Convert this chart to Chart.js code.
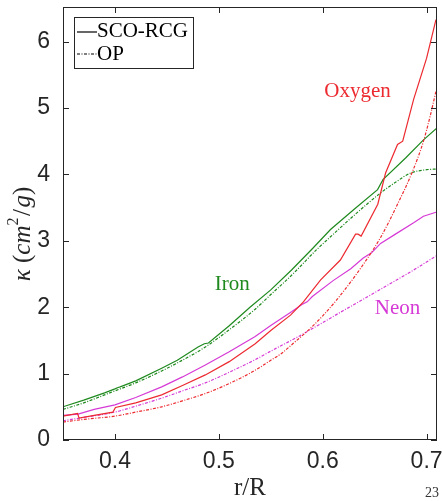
<!DOCTYPE html>
<html><head><meta charset="utf-8">
<script src="https://cdn.jsdelivr.net/npm/chart.js@4.4.0/dist/chart.umd.min.js"></script>
<style>html,body{margin:0;padding:0;background:#fff;} #wrap{width:443px;height:501px;position:relative;}</style>
</head><body><div id="wrap"><canvas id="c" width="443" height="501"></canvas></div>
<script>
// ---- data ----
const xTickValues = [0.4, 0.5, 0.6, 0.7];
const yTickValues = [0, 1, 2, 3, 4, 5, 6];

const oxygenR_SCO = [0.35,0.364,0.3655,0.38,0.398,0.4005,0.42,0.445,0.465,0.487,0.51,0.535,0.55,0.569,0.5814,0.598,0.617,0.6316,0.634,0.637,0.653,0.6605,0.672,0.677,0.6875,0.70,0.709];
const oxygenK_SCO = [0.36,0.40,0.33,0.37,0.42,0.49,0.56,0.68,0.82,0.98,1.18,1.45,1.65,1.88,2.08,2.41,2.71,3.10,3.10,3.07,3.55,4.02,4.45,4.50,5.13,5.75,6.33];
const oxygenR_OP  = [0.35,0.37,0.40,0.42,0.445,0.465,0.487,0.51,0.535,0.55,0.56,0.572,0.588,0.60,0.614,0.625,0.638,0.6557,0.672,0.6866,0.697,0.703,0.709];
const oxygenK_OP  = [0.27,0.31,0.36,0.42,0.50,0.59,0.70,0.85,1.05,1.20,1.30,1.46,1.68,1.87,2.12,2.34,2.62,3.05,3.55,4.05,4.50,4.85,5.25];

const ironR_SCO = [0.35,0.37,0.39,0.40,0.403,0.405,0.42,0.445,0.46,0.48,0.486,0.49,0.51,0.53,0.55,0.57,0.59,0.6075,0.63,0.6528,0.658,0.68,0.697,0.71];
const ironK_SCO = [0.50,0.60,0.71,0.77,0.79,0.80,0.89,1.08,1.20,1.40,1.45,1.46,1.72,2.00,2.26,2.56,2.88,3.17,3.47,3.77,3.92,4.25,4.52,4.70];
const ironR_OP  = [0.35,0.37,0.40,0.42,0.445,0.46,0.487,0.51,0.535,0.55,0.57,0.595,0.6075,0.63,0.6557,0.67,0.6846,0.70,0.71];
const ironK_OP  = [0.46,0.56,0.74,0.86,1.04,1.16,1.40,1.66,1.97,2.19,2.48,2.88,3.06,3.38,3.72,3.88,4.02,4.07,4.08];

const neonR_SCO = [0.35,0.3645,0.38,0.40,0.42,0.445,0.465,0.487,0.51,0.535,0.5496,0.57,0.58,0.585,0.59,0.61,0.627,0.639,0.647,0.6557,0.67,0.6875,0.697,0.709];
const neonK_SCO = [0.37,0.39,0.46,0.53,0.64,0.80,0.95,1.13,1.33,1.56,1.72,1.93,2.04,2.08,2.16,2.40,2.58,2.74,2.82,2.96,3.10,3.27,3.37,3.43];
const neonR_OP  = [0.35,0.37,0.40,0.42,0.445,0.465,0.487,0.51,0.535,0.555,0.5757,0.588,0.62,0.6557,0.6875,0.709];
const neonK_OP  = [0.29,0.34,0.42,0.51,0.63,0.74,0.86,1.02,1.21,1.38,1.55,1.66,1.95,2.27,2.56,2.77];

const elementLabels = ['Oxygen', 'Iron', 'Neon'];
const legendLabels = ['SCO-RCG', 'OP'];

// ---- styles ----
const RED = 'rgb(236,42,48)', GREEN = 'rgb(30,138,30)', MAGENTA = 'rgb(214,58,214)';
const AXIS = '#262626';
const DASH = [3, 1.5, 1, 1.5];
const SERIF = '"Liberation Serif", "DejaVu Serif", serif';
const pts = (r, k) => r.map((x, i) => ({x: x, y: k[i]}));
function ds(r, k, color, dashed) {
  const d = {data: pts(r, k), borderColor: color, borderWidth: 1.2, borderDash: dashed ? DASH : [],
          showLine: true, pointRadius: 0, tension: 0, fill: false};
  if (dashed) d.cubicInterpolationMode = 'monotone';
  return d;
}

const decor = {
  id: 'decor',
  afterDraw(chart) {
    const ctx = chart.ctx, a = chart.chartArea, xs = chart.scales.x, ys = chart.scales.y;
    ctx.save();
    ctx.strokeStyle = AXIS; ctx.lineWidth = 1;
    ctx.strokeRect(a.left + 0.5, a.top + 0.5, a.right - a.left - 1, a.bottom - a.top - 1);
    const TL = 6;
    ctx.beginPath();
    xTickValues.forEach(v => {
      const px = Math.round(xs.getPixelForValue(v)) + 0.5;
      ctx.moveTo(px, a.bottom); ctx.lineTo(px, a.bottom - TL);
      ctx.moveTo(px, a.top); ctx.lineTo(px, a.top + TL);
    });
    yTickValues.forEach(v => {
      const py = Math.round(ys.getPixelForValue(v)) + 0.5;
      ctx.moveTo(a.left, py); ctx.lineTo(a.left + TL, py);
      ctx.moveTo(a.right, py); ctx.lineTo(a.right - TL, py);
    });
    ctx.stroke();

    // element labels
    ctx.font = '21px ' + SERIF;
    ctx.textAlign = 'center'; ctx.textBaseline = 'middle';
    const labelPos = [[0.6335, 5.25, RED], [0.513, 2.34, GREEN], [0.672, 1.98, MAGENTA]];
    elementLabels.forEach((t, i) => {
      ctx.fillStyle = labelPos[i][2];
      ctx.fillText(t, xs.getPixelForValue(labelPos[i][0]), ys.getPixelForValue(labelPos[i][1]));
    });

    // legend box
    const L = 74, T = 17, W = 119, H = 51;
    ctx.fillStyle = '#fff'; ctx.fillRect(L, T, W, H);
    ctx.strokeStyle = AXIS; ctx.lineWidth = 1;
    ctx.strokeRect(L + 0.5, T + 0.5, W, H);
    ctx.strokeStyle = '#000'; ctx.lineWidth = 1.2;
    ctx.beginPath(); ctx.moveTo(77, 32); ctx.lineTo(97, 32); ctx.stroke();
    ctx.setLineDash(DASH);
    ctx.beginPath(); ctx.moveTo(77, 54); ctx.lineTo(97, 54); ctx.stroke();
    ctx.setLineDash([]);
    ctx.fillStyle = '#000'; ctx.textAlign = 'left';
    ctx.font = '21px ' + SERIF;
    ctx.fillText(legendLabels[0], 97, 31);
    ctx.fillText(legendLabels[1], 97, 54);

    // y-axis title: κ (cm²/g), drawn rotated with mixed italic/upright parts
    const parts = [['κ', 'italic 25px'], [' (', '25px'], ['cm', 'italic 25px'], ['2', '16px', -9], ['/', '25px'], ['g', 'italic 25px'], [')', '25px']];
    ctx.save();
    ctx.translate(23, 234);
    ctx.rotate(-Math.PI / 2);
    ctx.fillStyle = AXIS; ctx.textAlign = 'left'; ctx.textBaseline = 'middle';
    let total = 0;
    parts.forEach(p => { ctx.font = p[1] + ' ' + SERIF; total += ctx.measureText(p[0]).width + (p[0] === '/' ? 3 : 0); });
    let cx = -total / 2;
    parts.forEach(p => {
      ctx.font = p[1] + ' ' + SERIF;
      if (p[0] === '/') cx += 1.5;
      ctx.fillText(p[0], cx, p[2] || 0);
      cx += ctx.measureText(p[0]).width + (p[0] === '/' ? 1.5 : 0);
    });
    ctx.restore();

    // page number
    ctx.font = '14px ' + SERIF;
    ctx.fillStyle = '#333'; ctx.textAlign = 'center'; ctx.textBaseline = 'middle';
    ctx.fillText('23', 432, 493);
    ctx.restore();
  }
};

new Chart(document.getElementById('c'), {
  type: 'scatter',
  data: {datasets: [
    ds(oxygenR_SCO, oxygenK_SCO, RED, false),
    ds(oxygenR_OP, oxygenK_OP, RED, true),
    ds(neonR_SCO, neonK_SCO, MAGENTA, false),
    ds(neonR_OP, neonK_OP, MAGENTA, true),
    ds(ironR_SCO, ironK_SCO, GREEN, false),
    ds(ironR_OP, ironK_OP, GREEN, true)
  ]},
  options: {
    responsive: false, animation: false, devicePixelRatio: 1,
    layout: {padding: {top: 7, right: 6, left: 0, bottom: 0}},
    plugins: {legend: {display: false}, tooltip: {enabled: false}},
    scales: {
      x: {
        type: 'linear', min: 0.35, max: 0.71,
        afterBuildTicks: s => { s.ticks = xTickValues.map(v => ({value: v})); },
        afterFit: s => { s.height = 61; s.paddingLeft = 0; s.paddingRight = 0; },
        grid: {display: false, drawTicks: false}, border: {display: false},
        ticks: {color: AXIS, padding: 8, font: {family: '"Liberation Sans", Arial, sans-serif', size: 23},
                callback: v => v.toFixed(1), maxRotation: 0},
        title: {display: true, text: 'r/R', color: AXIS, padding: {top: 0, bottom: 0},
                font: {family: SERIF, size: 25, lineHeight: 1}}
      },
      y: {
        type: 'linear', min: 0, max: 6.52,
        afterBuildTicks: s => { s.ticks = yTickValues.map(v => ({value: v})); },
        afterFit: s => { s.width = 63; s.paddingTop = 0; s.paddingBottom = 0; },
        grid: {display: false, drawTicks: false}, border: {display: false},
        ticks: {color: AXIS, padding: 13, font: {family: '"Liberation Sans", Arial, sans-serif', size: 23},
                callback: v => String(v)},
        title: {display: false}
      }
    }
  },
  plugins: [decor]
});
</script></body></html>
